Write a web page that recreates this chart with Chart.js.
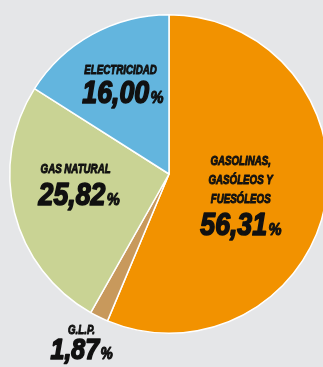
<!DOCTYPE html>
<html><head><meta charset="utf-8">
<script src="https://cdn.jsdelivr.net/npm/chart.js@4/dist/chart.umd.min.js"></script>
<style>
html,body{margin:0;padding:0;background:#e5e6e8;overflow:hidden;width:323px;height:367px}
#wrap{position:absolute;left:0;top:0;width:338px;height:367px}
</style></head>
<body><div id="wrap"><canvas id="c" width="338" height="367"></canvas></div>
<script>
// ---- data ----
const categories = ['GASOLINAS, GASÓLEOS Y FUESÓLEOS', 'G.L.P.', 'GAS NATURAL', 'ELECTRICIDAD'];
const titleLines = [['GASOLINAS,', 'GASÓLEOS Y', 'FUESÓLEOS'], ['G.L.P.'], ['GAS NATURAL'], ['ELECTRICIDAD']];
const values = [56.31, 1.87, 25.82, 16.00];
const valueLabels = ['56,31', '1,87', '25,82', '16,00'];

// ---- styles / layout ----
const colors = ['#f29200', '#c8995c', '#c9d394', '#63b5de'];
const labelLayout = [
  {fx: 0.45,  fy: 0.381, align: 'center', gap: 32, big: 31},
  {fx: -0.55, fy: 1.162, align: 'center', gap: 25, big: 29},
  {fx: -0.819, fy: 0.194, align: 'left', gap: 32, big: 31},
  {fx: -0.544, fy: -0.444, align: 'left', gap: 29, big: 31}
];
const FONT = "'Liberation Sans', Arial, sans-serif";

const labelPlugin = {
  id: 'sliceLabels',
  afterDraw(chart) {
    const ctx = chart.ctx;
    const arcs = chart.getDatasetMeta(0).data;
    arcs.forEach((arc, i) => {
      const L = labelLayout[i];
      const r = arc.outerRadius;
      const ax = arc.x + L.fx * r;
      const ay = arc.y + L.fy * r;
      ctx.save();
      ctx.fillStyle = '#111';
      ctx.strokeStyle = '#111';
      ctx.lineJoin = 'round';
      ctx.textBaseline = 'alphabetic';
      // value
      const sx = 0.86;
      ctx.font = `italic bold ${L.big}px ${FONT}`;
      const wNum = ctx.measureText(valueLabels[i]).width * sx;
      const pctSize = Math.round(L.big * 0.55);
      ctx.font = `italic bold ${pctSize}px ${FONT}`;
      const wPct = ctx.measureText('%').width * sx;
      const total = wNum + wPct + 1;
      let x0 = L.align === 'center' ? ax - total / 2 : ax;
      ctx.save();
      ctx.translate(x0, ay);
      ctx.scale(sx, 1);
      ctx.font = `italic bold ${L.big}px ${FONT}`;
      ctx.lineWidth = 1.7;
      ctx.fillText(valueLabels[i], 0, 0);
      ctx.strokeText(valueLabels[i], 0, 0);
      ctx.restore();
      ctx.save();
      ctx.translate(x0 + wNum + 1.5, ay);
      ctx.scale(sx, 1);
      ctx.font = `italic bold ${pctSize}px ${FONT}`;
      ctx.lineWidth = 1.1;
      ctx.fillText('%', 0, 0);
      ctx.strokeText('%', 0, 0);
      ctx.restore();
      // title lines
      const tsx = 0.72;
      const lines = titleLines[i];
      lines.forEach((t, k) => {
        const y = ay - L.gap - (lines.length - 1 - k) * 19;
        ctx.save();
        ctx.font = `italic bold 13.5px ${FONT}`;
        const w = ctx.measureText(t).width * tsx;
        const x = L.align === 'center' ? ax - w / 2 : ax + 2;
        ctx.translate(x, y);
        ctx.scale(tsx, 1);
        ctx.lineWidth = 1.0;
        ctx.fillText(t, 0, 0);
        ctx.strokeText(t, 0, 0);
        ctx.restore();
      });
      ctx.restore();
    });
  }
};

new Chart(document.getElementById('c'), {
  type: 'pie',
  data: {
    labels: categories,
    datasets: [{
      data: values,
      backgroundColor: colors,
      borderColor: '#ffffff',
      borderWidth: 1.5,
      hoverOffset: 0
    }]
  },
  options: {
    responsive: false,
    animation: false,
    layout: {padding: {left: 9, right: 9, top: 14, bottom: 33}},
    plugins: {legend: {display: false}, tooltip: {enabled: false}}
  },
  plugins: [labelPlugin]
});
</script>
</body></html>
